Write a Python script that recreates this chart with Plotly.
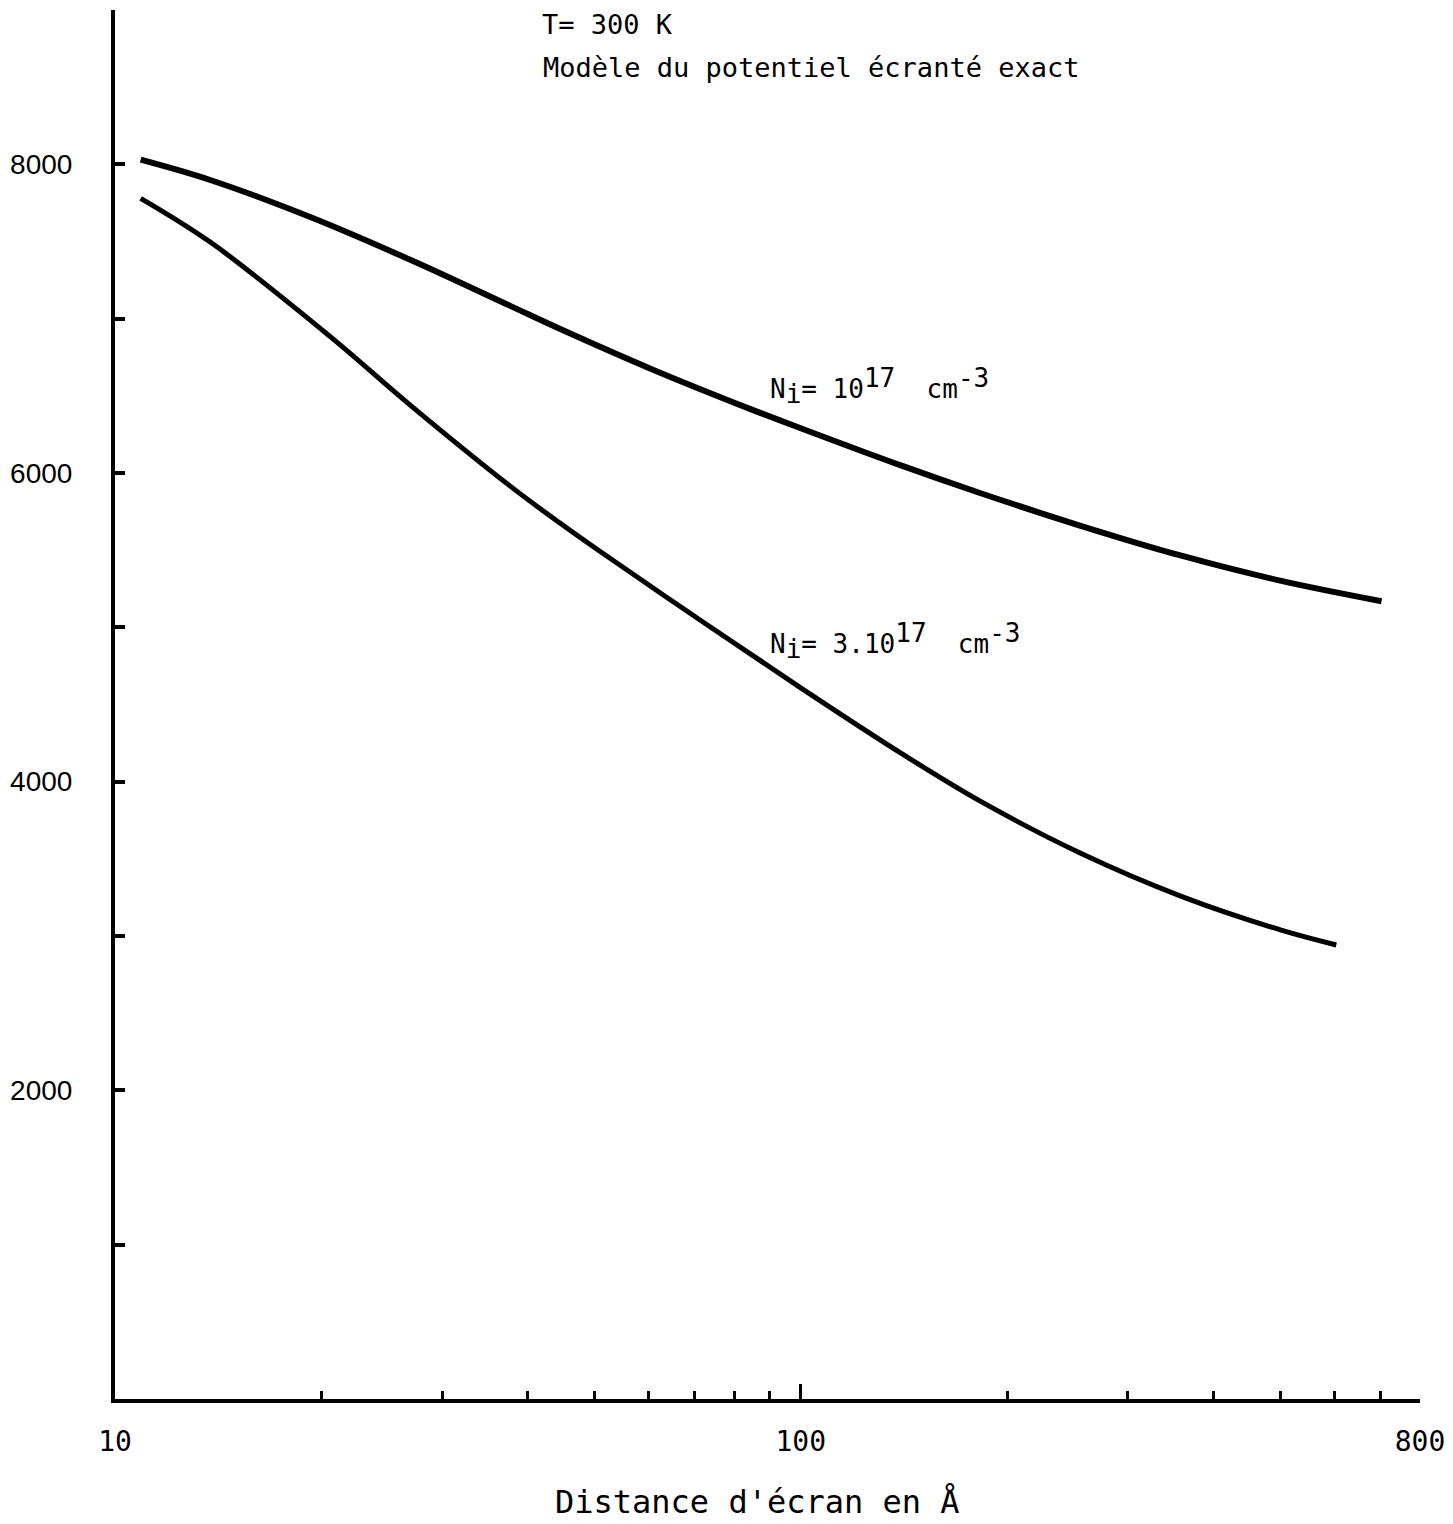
import math
import plotly.graph_objects as go

# Data (x: screening distance in Å, y: mobility)
x_upper = [10.9, 13.8, 19.3, 27.0, 37.7, 44.6, 60.4, 84.5, 100, 140, 183, 256, 359, 502, 703]
y_upper = [8030, 7897, 7657, 7380, 7083, 6933, 6676, 6414, 6290, 6049, 5869, 5658, 5464, 5301, 5169]

x_lower = [10.9, 13.8, 20.6, 27.0, 37.7, 44.6, 51.0, 71.4, 100, 140, 183, 256, 359, 502, 604]
y_lower = [7780, 7493, 6884, 6437, 5915, 5674, 5491, 5046, 4608, 4185, 3872, 3536, 3257, 3038, 2942]

x_tickvals = [10, 100, 800]
x_ticktext = ["10", "100", "800"]
x_minor = [20, 30, 40, 50, 60, 70, 80, 90, 200, 300, 400, 500, 600, 700]

y_tickvals = [2000, 4000, 6000, 8000]
y_ticktext = ["2000", "4000", "6000", "8000"]
y_minor = [1000, 3000, 5000, 7000, 9000]

big = '<span style="font-size:26px">'
label_upper = "N<sub>" + big + "i</span></sub>= 10<sup>" + big + "17</span></sup>  cm<sup>" + big + "-3</span></sup>"
label_lower = "N<sub>" + big + "i</span></sub>= 3.10<sup>" + big + "17</span></sup>  cm<sup>" + big + "-3</span></sup>"
title_lines = ["T= 300 K", "Modèle du potentiel écranté exact"]
x_title = "Distance d'écran en Å"

mono = "DejaVu Sans Mono"

# the page body adds an 8 px margin; figure coords = screen coords - 8
OFF = 8
W, H = 1445, 1516
ML, MT = 115 - OFF, 10 - OFF
MR = W - (1420 - OFF)
MB = H - (1399 - OFF)
PW, PH = W - ML - MR, H - MT - MB


def px_to_paper_x(px):
    return (px - OFF - ML) / PW


def px_to_paper_y(py):
    return 1 - (py - OFF - MT) / PH


fig = go.Figure()
fig.add_trace(go.Scatter(x=x_upper, y=y_upper, mode="lines",
                         line=dict(color="black", width=6, shape="spline", smoothing=1.0),
                         showlegend=False, hoverinfo="skip"))
fig.add_trace(go.Scatter(x=x_lower, y=y_lower, mode="lines",
                         line=dict(color="black", width=5, shape="spline", smoothing=1.0),
                         showlegend=False, hoverinfo="skip"))

fig.update_layout(
    width=W, height=H,
    margin=dict(l=ML, r=MR, t=MT, b=MB),
    paper_bgcolor="white", plot_bgcolor="white",
    showlegend=False,
)

fig.update_xaxes(
    type="log", range=[1, math.log10(800)], automargin=False,
    showgrid=False, zeroline=False,
    showline=True, linecolor="black", linewidth=4,
    tickmode="array", tickvals=x_tickvals, ticktext=x_ticktext,
    ticks="inside", ticklen=15, tickwidth=3, tickcolor="black",
    minor=dict(tickvals=x_minor, ticks="inside", ticklen=8, tickwidth=3,
               tickcolor="black", showgrid=False),
    tickfont=dict(family=mono, size=28, color="black"),
    ticklabelstandoff=14,
)

fig.update_yaxes(
    range=[0, 9000], automargin=False,
    showgrid=False, zeroline=False,
    showline=True, linecolor="black", linewidth=4,
    tickmode="array", tickvals=y_tickvals, ticktext=y_ticktext,
    ticks="inside", ticklen=10, tickwidth=4, tickcolor="black",
    minor=dict(tickvals=y_minor, ticks="inside", ticklen=10, tickwidth=4,
               tickcolor="black", showgrid=False),
    tickfont=dict(family="Liberation Sans", size=28, color="black"),
    ticklabelstandoff=33,
)

fig.add_annotation(text=title_lines[0], xref="paper", yref="paper",
                   x=px_to_paper_x(541), y=px_to_paper_y(8),
                   xanchor="left", yanchor="top", showarrow=False, borderpad=0,
                   font=dict(family=mono, size=27, color="black"))
fig.add_annotation(text=title_lines[1], xref="paper", yref="paper",
                   x=px_to_paper_x(541), y=px_to_paper_y(68),
                   xanchor="left", yanchor="middle", showarrow=False,
                   font=dict(family=mono, size=27, color="black"))

fig.add_annotation(text=label_upper, xref="paper", yref="paper",
                   x=px_to_paper_x(768), y=px_to_paper_y(386),
                   xanchor="left", yanchor="middle", showarrow=False,
                   font=dict(family=mono, size=26, color="black"))
fig.add_annotation(text=label_lower, xref="paper", yref="paper",
                   x=px_to_paper_x(768), y=px_to_paper_y(641),
                   xanchor="left", yanchor="middle", showarrow=False,
                   font=dict(family=mono, size=26, color="black"))

fig.add_annotation(text=x_title, xref="paper", yref="paper",
                   x=px_to_paper_x(757), y=px_to_paper_y(1502),
                   xanchor="center", yanchor="middle", showarrow=False, borderpad=0,
                   font=dict(family=mono, size=32, color="black"))

fig.write_html("out.html")
